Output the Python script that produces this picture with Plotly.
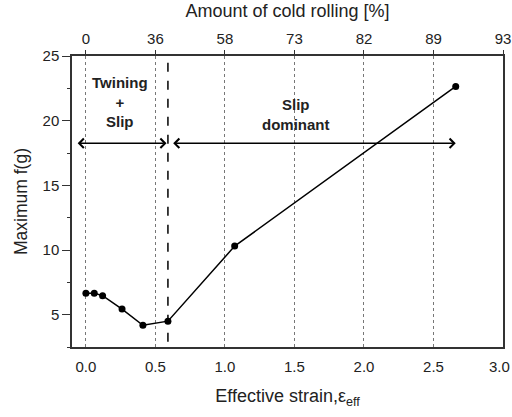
import plotly.graph_objects as go

# Effective strain vs. maximum texture intensity f(g)
strain = [0.0, 0.06, 0.12, 0.26, 0.41, 0.59, 1.07, 2.66]
max_fg = [6.65, 6.65, 6.47, 5.43, 4.18, 4.50, 10.30, 22.65]

# Bottom / top axis ticks (top axis gives cold-rolling reduction)
strain_ticks = [0.0, 0.5, 1.0, 1.5, 2.0, 2.5, 3.0]
strain_labels = ["0.0", "0.5", "1.0", "1.5", "2.0", "2.5", "3.0"]
rolling_labels = ["0", "36", "58", "73", "82", "89", "93"]
fg_ticks = [5, 10, 15, 20, 25]

# Regime boundary and regime arrows
boundary_strain = 0.59
arrow_level = 18.25
twin_span = [-0.07, 0.58]
slip_span = [0.617, 2.66]

FONT = "Liberation Sans, Arial, sans-serif"
INK = "#222222"
AXIS = "#333333"

fig = go.Figure()

fig.add_trace(go.Scatter(
    x=strain, y=max_fg, mode="lines+markers",
    line=dict(color="black", width=1.5),
    marker=dict(color="black", size=7),
    showlegend=False, hoverinfo="skip",
))

# invisible trace so the top axis is laid out
fig.add_trace(go.Scatter(
    x=[strain_ticks[0], strain_ticks[-1]], y=[fg_ticks[0], fg_ticks[0]],
    xaxis="x2", mode="markers", marker=dict(opacity=0),
    showlegend=False, hoverinfo="skip",
))

# dashed boundary between the two regimes
fig.add_shape(type="line", xref="x", yref="y",
              x0=boundary_strain, x1=boundary_strain, y0=2.9, y1=25,
              line=dict(color="black", width=1.5, dash="dash"))

# double-headed regime arrows
for span in (twin_span, slip_span):
    fig.add_annotation(
        x=span[1], y=arrow_level, ax=span[0], ay=arrow_level,
        xref="x", yref="y", axref="x", ayref="y",
        text="", showarrow=True, arrowside="end+start",
        arrowhead=4, startarrowhead=4, arrowsize=1.3, startarrowsize=1.3,
        arrowwidth=1.4, arrowcolor="black", standoff=0, startstandoff=0,
    )

fig.add_annotation(x=0.245, y=21.45, xref="x", yref="y",
                   text="<b>Twining</b><br><b>+</b><br><b>Slip</b>",
                   showarrow=False, align="center",
                   font=dict(family=FONT, size=15, color=INK))
fig.add_annotation(x=1.51, y=20.5, xref="x", yref="y",
                   text="<b>Slip</b><br><b>dominant</b>",
                   showarrow=False, align="center",
                   font=dict(family=FONT, size=15, color=INK))

# last bottom tick label sits at the page edge; keep it inside the page
fig.add_annotation(x=strain_ticks[-1], y=0, xref="x", yref="paper",
                   xanchor="right", xshift=9, yanchor="top", yshift=-9,
                   showarrow=False, text=strain_labels[-1],
                   font=dict(family=FONT, size=15, color=INK))

fig.update_layout(
    width=512, height=417,
    margin=dict(l=72, r=9, t=56, b=70),
    paper_bgcolor="white", plot_bgcolor="white",
    font=dict(family=FONT, size=15, color=INK),
    xaxis=dict(
        range=[-0.1, 3.0], tickvals=strain_ticks[:-1],
        ticktext=strain_labels[:-1],
        showline=True, linecolor=AXIS, linewidth=1.5, automargin=False,
        ticks="outside", ticklen=5, tickcolor="rgba(0,0,0,0)",
        showgrid=True, gridcolor="#777777", gridwidth=1, griddash="dot",
        zeroline=False,
        title=dict(text="Effective strain,ε<sub>eff</sub>",
                   font=dict(size=18), standoff=16),
    ),
    xaxis2=dict(
        range=[-0.1, 3.0], overlaying="x", side="top",
        tickvals=strain_ticks, ticktext=rolling_labels, automargin=False,
        showline=True, linecolor=AXIS, linewidth=1.5,
        ticks="outside", ticklen=4, tickcolor=AXIS,
        showgrid=False, zeroline=False,
        title=dict(text="Amount of cold rolling [%]",
                   font=dict(size=18), standoff=8),
    ),
    yaxis=dict(
        range=[2.5, 25], tickvals=fg_ticks, automargin=False,
        showline=True, linecolor=AXIS, linewidth=1.5, mirror=True,
        ticks="outside", ticklen=8, tickcolor=AXIS,
        minor=dict(dtick=2.5, ticks="outside", ticklen=3, tickcolor=AXIS),
        showgrid=False, zeroline=False,
        title=dict(text="Maximum f(g)", font=dict(size=17.5), standoff=10),
    ),
)

fig.write_html("out.html")
